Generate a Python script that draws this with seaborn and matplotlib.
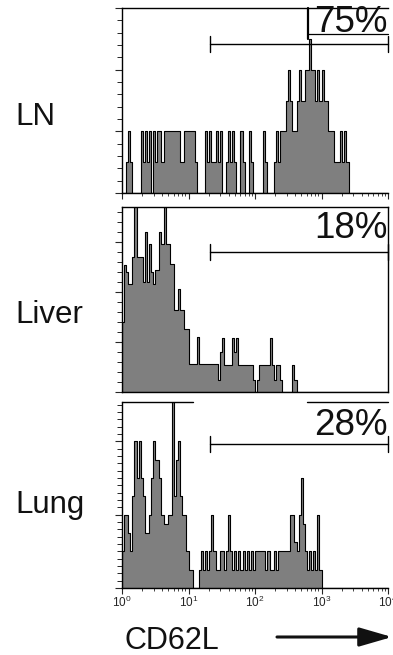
import numpy as np
import pandas as pd
import matplotlib
matplotlib.use("Agg")
import matplotlib.pyplot as plt
import seaborn as sns
from matplotlib.ticker import FixedLocator, MultipleLocator, NullFormatter
from matplotlib.patches import FancyArrowPatch

sns.set_style("white")
plt.rcParams['font.family'] = ['Liberation Sans', 'DejaVu Sans']
plt.rcParams['mathtext.fontset'] = 'custom'
plt.rcParams['mathtext.rm'] = 'Liberation Sans'

# ---------------- data ----------------
N_BINS = 128          # channels across 4 decades
DECADES = 4
tissues = ["LN", "Liver", "Lung"]
percents = ["75%", "18%", "28%"]
gate_start = 21.0      # CD62L intensity where the gate begins
gate_end = 10000.0
x_tick_labels = ["$\\mathregular{10^{0}}$", "$\\mathregular{10^{1}}$", "$\\mathregular{10^{2}}$",
                 "$\\mathregular{10^{3}}$", "$\\mathregular{10^{4}}$"]

ln_counts = [0, 0, 1, 2, 1, 0, 0, 0, 0,
             2, 1, 2, 1, 2, 0,
             2, 1, 2, 2, 1, 2,
             2, 2, 2, 2, 2, 2, 2,
             1, 1, 2, 2, 2, 2, 2, 1,
             0, 0, 0, 0,
             2, 1, 2, 1, 1, 2, 1, 2,
             0, 0,
             1, 2, 1, 2, 1,
             0, 0,
             2, 1, 0, 0,
             2, 1, 0, 0, 0, 0, 0,
             2, 1, 0, 0, 0,
             1, 2, 1, 2, 2, 2, 3, 4, 3, 2, 2, 3, 4, 3, 3, 4, 4, 5, 4, 4,
             3, 4, 3, 4, 3, 3, 2, 2, 2, 1, 1, 1, 2, 1, 2, 1]

liver_counts = [7, 12.7, 12, 10.8, 10.8, 13.5, 20, 13.5, 13.5, 13.5,
                11, 16, 11, 14.8, 12, 10.8, 12.2, 12.2, 16, 14.8,
                20, 14.8, 14.8, 12.8, 12.8, 8.2, 8.2, 10.3, 8.2, 8.2,
                6.3, 6.3, 2.8, 2.8, 2.8, 2.8, 5.5, 2.8,
                2.8, 2.8, 2.8, 2.8, 2.8, 2.8, 2.8, 2.8,
                1.2, 4, 5.4, 2.7, 2.7, 2.7, 2.7, 5.4, 4, 5.4,
                2.7, 2.7, 2.7, 2.7, 2.7, 2.7, 2.7,
                1.2, 0, 1.2, 2.7, 2.7, 2.7, 2.7, 2.7, 5.4, 2.7, 1.2,
                2.7, 2.7, 1.2, 0, 0, 0, 0, 0, 2.7, 1.2]

lung_counts = [2, 4, 4, 3, 2, 5, 8, 6, 8, 6,
               5, 3, 3, 4, 6, 8, 7, 7, 6, 4,
               3.5, 3.5, 4, 4, 10.5, 5, 7, 8, 5, 4,
               4, 2, 1, 1, 0, 0, 0, 1, 2, 1,
               2, 1, 2, 4, 2, 1, 1, 2, 2, 1,
               2, 4, 2, 1, 2, 1, 2, 1, 2, 1,
               2, 1, 2, 1, 2, 2, 2, 2, 2, 1,
               2, 1, 1, 2, 1, 2, 2, 2, 2, 2,
               2, 4, 4, 2.5, 2, 4, 6, 3.5, 2, 1,
               2, 1, 2, 1, 4, 1]

all_counts = [ln_counts, liver_counts, lung_counts]
y_max = [6.0, 18.5, 10.15]

# ---------------- layout ----------------
W, H = 393, 655
fig = plt.figure(figsize=(W / 100, H / 100), dpi=100)

panels_px = [(122, 8, 388, 193), (122, 207, 388, 392), (122, 402, 388, 588)]
gate_y = [0.805, 0.757, 0.774]
pct_y = [0.872, 0.832, 0.823]
label_base = [125, 323, 513]

bin_w = DECADES / N_BINS
centers = (np.arange(N_BINS) + 0.5) * bin_w
minor_x = [np.log10(k * 10 ** d) for d in range(DECADES) for k in range(2, 10)]

for i, (counts, tissue, pct) in enumerate(zip(all_counts, tissues, percents)):
    x0, y0, x1, y1 = panels_px[i]
    ax = fig.add_axes([x0 / W, 1 - y1 / H, (x1 - x0) / W, (y1 - y0) / H])
    full = np.zeros(N_BINS)
    full[:len(counts)] = counts
    df = pd.DataFrame({"log_cd62l": centers, "count": full})
    sns.histplot(data=df, x="log_cd62l", weights="count", binwidth=bin_w,
                 binrange=(0, DECADES),
                 element="step", fill=True, color="#7f7f7f", edgecolor="black",
                 linewidth=0.8, alpha=1, ax=ax)
    ax.set_xlim(0, DECADES)
    ax.set_ylim(0, y_max[i])
    ax.set_xlabel("")
    ax.set_ylabel("")

    # spines
    for s in ax.spines.values():
        s.set_color("black")
        s.set_linewidth(1.0)
    if i == 0:
        ax.spines["right"].set_visible(False)
    if i == 2:
        ax.spines["right"].set_visible(False)
        ax.spines["top"].set_visible(False)
        ax.axhline(y_max[i], xmin=0, xmax=(193 - 122) / 266, color="black", lw=1.0, clip_on=False)
        ax.axhline(y_max[i], xmin=(307 - 122) / 266, xmax=1, color="black", lw=1.0, clip_on=False)

    # y ticks
    major_step = [2, 5, 4][i]
    minor_step = [0.4, 1.0, 0.4][i]
    ax.yaxis.set_major_locator(MultipleLocator(major_step))
    ax.yaxis.set_minor_locator(MultipleLocator(minor_step))
    ax.yaxis.set_major_formatter(NullFormatter())
    ax.tick_params(axis="y", which="major", direction="out", length=5, width=0.8, left=True, right=False)
    ax.tick_params(axis="y", which="minor", direction="out", length=3.5, width=0.7, left=True, right=False)

    # x ticks
    ax.xaxis.set_major_locator(FixedLocator(range(DECADES + 1)))
    ax.xaxis.set_minor_locator(FixedLocator(minor_x))
    if i == 2:
        ax.set_xticklabels(x_tick_labels, fontsize=8.5)
    else:
        ax.xaxis.set_major_formatter(NullFormatter())
    if i == 1:
        ax.tick_params(axis="x", which="both", length=0)
    else:
        ax.tick_params(axis="x", which="major", direction="out", length=4, width=0.8, bottom=True, pad=1)
        ax.tick_params(axis="x", which="minor", direction="out", length=2.5, width=0.6, bottom=True)

    # gate bar
    tr = ax.get_xaxis_transform()
    gx0, gx1 = np.log10(gate_start), np.log10(gate_end)
    ax.plot([gx0, gx1], [gate_y[i], gate_y[i]], color="black", lw=1.0, transform=tr, clip_on=False)
    for gx in (gx0, gx1):
        ax.plot([gx, gx], [gate_y[i] - 0.045, gate_y[i] + 0.045], color="black", lw=1.0,
                transform=tr, clip_on=False)

    ax.text(0.997, pct_y[i], pct, transform=ax.transAxes, ha="right", va="baseline",
            fontsize=26.5, color="#111111")

    if i == 0:
        bx = (308 - 122) / 266 * DECADES
        ax.plot([bx, bx], [0.835, 1.0], color="black", lw=1.6, transform=tr, clip_on=False)
        ax.plot([bx, DECADES], [0.862, 0.862], color="black", lw=0.9, transform=tr, clip_on=False)

    fig.text(15 / W, 1 - label_base[i] / H, tissue, fontsize=22.5, va="baseline", ha="left",
             color="#111111")

fig.text(125 / W, 1 - 649 / H, "CD62L", fontsize=22, va="baseline", ha="left", color="#111111")
arrow = FancyArrowPatch((277 / W, 1 - 637 / H), (392 / W, 1 - 637 / H),
                        transform=fig.transFigure,
                        arrowstyle="-|>,head_length=1.0,head_width=0.29",
                        mutation_scale=20, lw=2.2, color="#111111",
                        shrinkA=0, shrinkB=0)
fig.add_artist(arrow)

fig.savefig("out.png", dpi=100)
